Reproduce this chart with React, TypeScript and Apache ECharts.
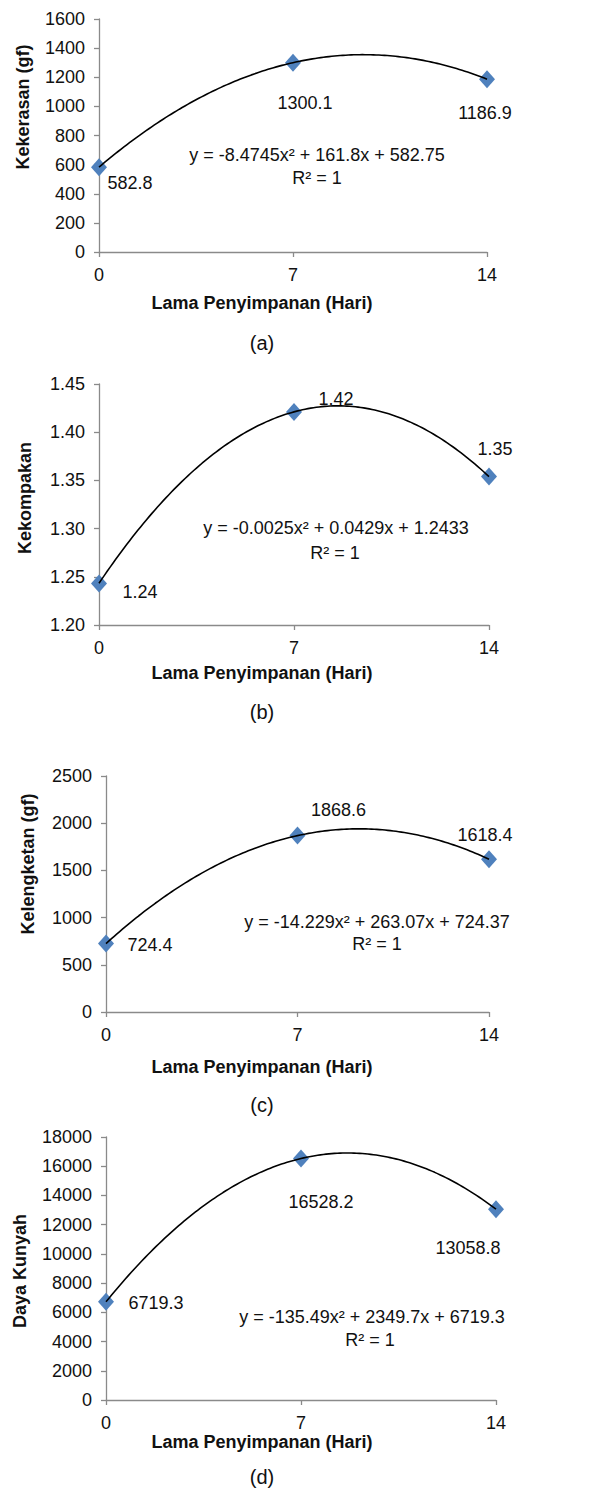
import React, { useEffect, useRef } from "react";
import * as echarts from "echarts";

// ---------- data ----------
const days = [0, 7, 14];
const xTicks = [0, 7, 14];

const kekerasan = [582.8, 1300.1, 1186.9];
const kekompakan = [1.243, 1.421, 1.354];
const kelengketan = [724.4, 1868.6, 1618.4];
const dayaKunyah = [6719.3, 16528.2, 13058.8];

// polynomial trendline coefficients [a (x²), b (x), c]
const coefKekerasan = [-8.4745, 161.8, 582.75];
const coefKekompakan = [-0.0025, 0.0429, 1.2433];
const coefKelengketan = [-14.229, 263.07, 724.37];
const coefDayaKunyah = [-135.49, 2349.7, 6719.3];

const eqKekerasan = "y = -8.4745x² + 161.8x + 582.75";
const eqKekompakan = "y = -0.0025x² + 0.0429x + 1.2433";
const eqKelengketan = "y = -14.229x² + 263.07x + 724.37";
const eqDayaKunyah = "y = -135.49x² + 2349.7x + 6719.3";
const r2Text = "R² = 1";

const xTitle = "Lama Penyimpanan (Hari)";
const yTitles = ["Kekerasan (gf)", "Kekompakan", "Kelengketan (gf)", "Daya Kunyah"];
const captions = ["(a)", "(b)", "(c)", "(d)"];

const yRanges = [
  { min: 0, max: 1600, interval: 200, dec: 0 },
  { min: 1.2, max: 1.45, interval: 0.05, dec: 2 },
  { min: 0, max: 2500, interval: 500, dec: 0 },
  { min: 0, max: 18000, interval: 2000, dec: 0 },
];

// ---------- layout ----------
const FONT = "'Liberation Sans', Arial, sans-serif";
const FS = 18;
const SYM_W = 16;
const SYM_H = 18;
const grids = [
  { left: 99, top: 19, width: 388, height: 233 },
  { left: 99, top: 384, width: 390, height: 241 },
  { left: 106, top: 776, width: 383, height: 236 },
  { left: 106, top: 1137, width: 390, height: 263 },
];
const labelOffsets = [
  [[31, 16], [12, 40], [-2, 34]],
  [[41, 8], [42, -13], [6, -28]],
  [[44, 1], [41, -26], [-4, -24]],
  [[50, 1], [20, 43], [-28, 39]],
];
const labelDecimals = [1, 2, 1, 1];
const yTitlePos = [[23, 107], [25, 498], [28, 864], [20, 1271]];
const xTitlePos = [[262, 303], [262, 673], [262, 1067], [262, 1442]];
const captionPos = [[262, 343], [262, 712], [262, 1105], [262, 1477]];
const eqPos = [[317, 155], [336, 528], [377, 922], [372, 1317]];
const r2Pos = [[317, 178], [335, 553], [377, 944], [370, 1340]];

const values = [kekerasan, kekompakan, kelengketan, dayaKunyah];
const coefs = [coefKekerasan, coefKekompakan, coefKelengketan, coefDayaKunyah];
const equations = [eqKekerasan, eqKekompakan, eqKelengketan, eqDayaKunyah];

function trend(coef: number[]) {
  const pts: number[][] = [];
  for (let i = 0; i <= 140; i++) {
    const x = i / 10;
    pts.push([x, coef[0] * x * x + coef[1] * x + coef[2]]);
  }
  return pts;
}

export default function App() {
  const ref = useRef<HTMLDivElement>(null);
  useEffect(() => {
    if (!ref.current) return;
    const chart = echarts.init(ref.current, null, { renderer: "svg" });
    const axisColor = "#8a8a8a";
    const xAxis = grids.map((_, i) => ({
      type: "value",
      gridIndex: i,
      min: 0,
      max: 14,
      interval: 7,
      axisLine: { show: true, lineStyle: { color: axisColor, width: 1.3 } },
      axisTick: { show: true, length: 5, lineStyle: { color: axisColor, width: 1.3 } },
      splitLine: { show: false },
      axisLabel: {
        margin: 14,
        color: "#111",
        fontSize: FS,
        fontFamily: FONT,
        formatter: (v: number) => (xTicks.includes(v) ? String(v) : ""),
      },
    }));
    const yAxis = grids.map((_, i) => ({
      type: "value",
      gridIndex: i,
      min: yRanges[i].min,
      max: yRanges[i].max,
      interval: yRanges[i].interval,
      axisLine: { show: true, lineStyle: { color: axisColor, width: 1.3 } },
      axisTick: { show: true, length: 5, lineStyle: { color: axisColor, width: 1.3 } },
      splitLine: { show: false },
      axisLabel: {
        margin: 14,
        color: "#111",
        fontSize: FS,
        fontFamily: FONT,
        formatter: (v: number) => v.toFixed(yRanges[i].dec),
      },
    }));
    const series: any[] = [];
    grids.forEach((_, i) => {
      series.push({
        type: "line",
        xAxisIndex: i,
        yAxisIndex: i,
        data: trend(coefs[i]),
        showSymbol: false,
        symbol: "none",
        lineStyle: { color: "#000", width: 1.6 },
        z: 3,
        silent: true,
      });
      series.push({
        type: "scatter",
        xAxisIndex: i,
        yAxisIndex: i,
        symbol: "diamond",
        symbolSize: [SYM_W, SYM_H],
        itemStyle: { color: "#4F81BD", opacity: 1 },
        z: 2,
        data: days.map((d, j) => ({
          value: [d, values[i][j]],
          label: {
            show: true,
            position: [SYM_W / 2 + labelOffsets[i][j][0], SYM_H / 2 + labelOffsets[i][j][1]],
            align: "center",
            verticalAlign: "middle",
            formatter: values[i][j].toFixed(labelDecimals[i]),
            color: "#111",
            opacity: 1,
            textBorderWidth: 0,
            fontSize: FS,
            fontFamily: FONT,
          },
        })),
      });
    });
    const graphic: any[] = [];
    const txt = (x: number, y: number, text: string, extra: any = {}, rot = 0) => ({
      type: "text",
      x,
      y,
      rotation: rot,
      style: {
        text,
        fontSize: FS,
        fontFamily: FONT,
        fill: "#111",
        textAlign: "center",
        textVerticalAlign: "middle",
        ...extra,
      },
    });
    grids.forEach((_, i) => {
      graphic.push(txt(yTitlePos[i][0], yTitlePos[i][1], yTitles[i], { fontWeight: "bold" }, Math.PI / 2));
      graphic.push(txt(xTitlePos[i][0], xTitlePos[i][1], xTitle, { fontWeight: "bold" }));
      graphic.push(txt(captionPos[i][0], captionPos[i][1], captions[i], { fontSize: 20 }));
      graphic.push(txt(eqPos[i][0], eqPos[i][1], equations[i]));
      graphic.push(txt(r2Pos[i][0], r2Pos[i][1], r2Text));
    });
    chart.setOption({
      animation: false,
      backgroundColor: "#fff",
      grid: grids.map((g) => ({ ...g, containLabel: false })),
      xAxis,
      yAxis,
      series,
      graphic,
    });
    return () => chart.dispose();
  }, []);
  return (
    <div
      ref={ref}
      style={{ position: "absolute", left: 0, top: 0, width: 611, height: 1490 }}
    />
  );
}
